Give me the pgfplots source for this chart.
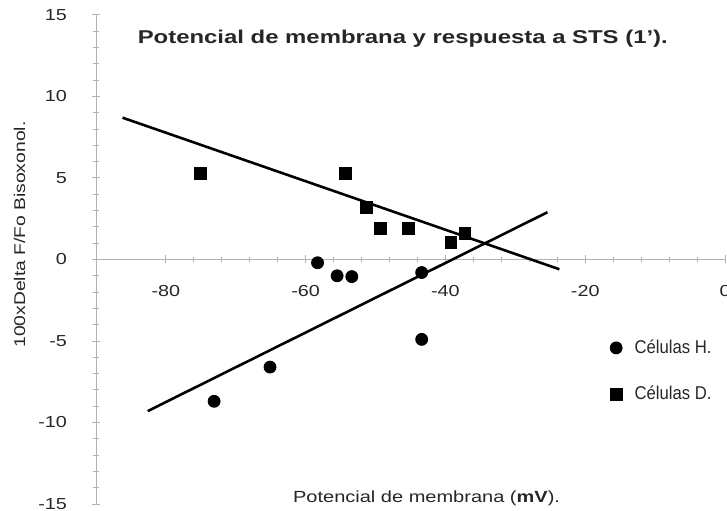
\documentclass[border=0pt]{standalone}
\usepackage{fontspec}
\setmainfont{Liberation Sans}[FakeStretch=1.24]
\newfontfamily\titlefont{Liberation Sans}[FakeStretch=1.29]
\newfontfamily\legfont{Liberation Sans}[FakeStretch=0.9]
\usepackage{pgfplots}
\pgfplotsset{compat=1.18}
\pgfplotsset{mymarkleg/.style={legend image code/.code={\path (-3bp,0bp) (7bp,0bp); \draw[##1] plot coordinates {(0bp,0bp)};}}}

\begin{document}
\begin{tikzpicture}
\useasboundingbox (0,0) rectangle (363.5bp,255.5bp);
\begin{axis}[
  at={(48bp,3.5bp)}, anchor=south west,
  scale only axis, width=314.5bp, height=244.5bp,
  xmin=-90, xmax=0, ymin=-15, ymax=15,
  axis x line=middle, axis y line=left,
  hide obscured x ticks=false, hide obscured y ticks=false,
  axis line style={-, gray!60, line width=0.5pt},
  xtick={-80,-60,-40,-20,0}, ytick={-15,-10,-5,0,5,10,15},
  minor tick num=4,
  tick style={gray!60, line width=0.5pt},
  major tick length=4bp, minor tick length=2.5bp,
  tick align=center,
  /pgf/number format/assume math mode=true,
  tick label style={font=\fontsize{8}{9}\selectfont, text=black!85},
  xticklabel style={yshift=-7.5bp},
  yticklabel style={xshift=-9bp},
  clip=false,
  legend style={draw=none, fill=none, at={(axis cs:-17.4,-4.4)}, anchor=north west,
    font=\legfont\fontsize{9.3}{11}\selectfont, row sep=11bp, text=black!85},
  legend cell align=left,
]
\addplot[only marks, mark=*, mark size=3bp, black, mymarkleg] coordinates {
  (-58.3,-0.2) (-55.5,-1.0) (-53.4,-1.05) (-43.4,-0.8) (-43.4,-4.9) (-65.1,-6.6) (-73.1,-8.7)
};
\addlegendentry{Células H.}
\addplot[only marks, mark=square*, mark size=2.9bp, black, mymarkleg] coordinates {
  (-75.1,5.3) (-54.3,5.3) (-51.3,3.2) (-49.3,1.9) (-45.3,1.9) (-39.2,1.05) (-37.2,1.6)
};
\addlegendentry{Células D.}
\addplot[black, line width=1.3pt, forget plot] coordinates {(-86.2,8.7) (-23.7,-0.6)};
\addplot[black, line width=1.3pt, forget plot] coordinates {(-82.6,-9.3) (-25.4,2.9)};

\node[anchor=base, font=\titlefont\bfseries\fontsize{9.3}{11}\selectfont, text=black!85]
  at (axis cs:-46.1,13.25) {Potencial de membrana y respuesta a STS (1’).};
\node[anchor=base, font=\fontsize{8.1}{10}\selectfont, text=black!85]
  at (axis cs:-42.7,-14.9) {Potencial de membrana (\textbf{mV}).};
\node[rotate=90, anchor=base, font=\fontsize{7.8}{10}\selectfont, text=black!85]
  at ([xshift=-35.5bp]axis cs:-90,1.53) {100xDelta F/Fo Bisoxonol.};
\end{axis}
\end{tikzpicture}
\end{document}
